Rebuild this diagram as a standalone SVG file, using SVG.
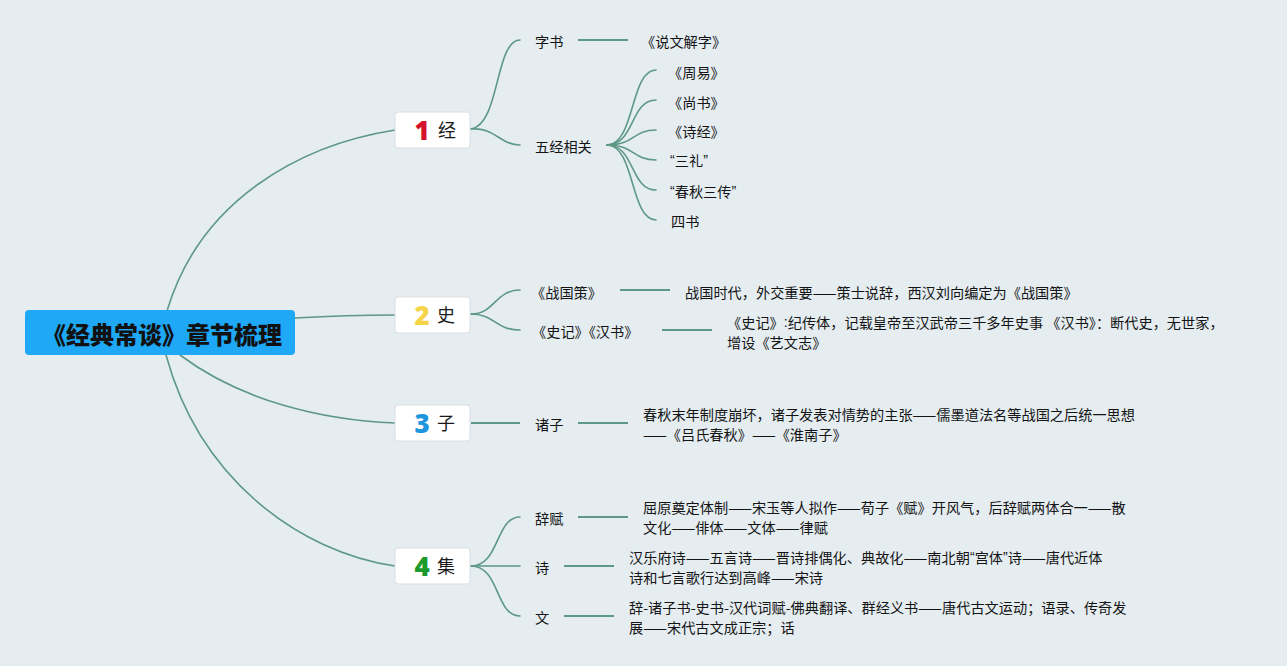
<svg xmlns="http://www.w3.org/2000/svg" width="1287" height="666" viewBox="0 0 1287 666">
<style>
.bg{fill:#e5edf1}
.c{fill:none;stroke:#5e9886;stroke-width:1.6;stroke-linecap:round}
.l{fill:none;stroke:#5e9886;stroke-width:2}
.t{font-family:"Noto Sans CJK SC","Noto Sans",sans-serif;font-size:14.2px;fill:#141414;dominant-baseline:central}
.q{font-family:"Liberation Sans",sans-serif}
.box{fill:#ffffff;stroke:#dadde0;stroke-width:1}
.num{font-family:"Noto Sans","Liberation Sans",sans-serif;font-weight:900;font-size:26px;text-anchor:middle}
.nt{font-family:"Noto Sans CJK SC",sans-serif;font-size:18px;fill:#1a1a1a;text-anchor:middle}
.root{font-family:"Noto Sans CJK SC",sans-serif;font-weight:900;font-size:24px;fill:#111;dominant-baseline:central}
</style>
<rect class="bg" x="0" y="0" width="1287" height="666"/>
<g id="connectors">
<path class="c" d="M167,311 C200,200 300,145 395,130"/>
<path class="c" d="M295,318 C330,316 360,315 395,315"/>
<path class="c" d="M180,355 C240,400 320,420 395,423"/>
<path class="c" d="M166,355 C200,480 300,552 395,566"/>
<path class="c" d="M471,129 C500,125 495,40 520,40"/>
<path class="c" d="M471,129 C495,127 500,145 520,145"/>
<path class="l" d="M578,40 H628"/>
<path class="c" d="M607,145 C635,145 630,70 656,70"/>
<path class="c" d="M607,145 C635,145 630,100 656,100"/>
<path class="c" d="M607,145 C635,145 632,130 656,130"/>
<path class="c" d="M607,145 C635,145 632,160 656,160"/>
<path class="c" d="M607,145 C635,145 630,190 656,190"/>
<path class="c" d="M607,145 C635,145 630,220 656,220"/>
<path class="c" d="M471,314 C495,314 495,290 520,290"/>
<path class="c" d="M471,314 C495,314 495,330 520,330"/>
<path class="l" d="M620,290 H670"/>
<path class="l" d="M662,330 H712"/>
<path class="l" d="M471,423 H520"/>
<path class="l" d="M578,423 H628"/>
<path class="c" d="M471,566 C500,566 495,517 520,517"/>
<path class="c" d="M471,566 H520"/>
<path class="c" d="M471,566 C500,566 495,616 520,616"/>
<path class="l" d="M578,517 H628"/>
<path class="l" d="M564,566 H614"/>
<path class="l" d="M564,616 H614"/>
</g>
<g id="root">
<rect x="25" y="310" width="270" height="45" rx="4" fill="#1fa8f6"/>
<text class="root" x="42" y="333">《经典常谈》章节梳理</text>
</g>
<g id="n1">
<rect class="box" x="395" y="112" width="75" height="36" rx="3"/>
<text class="num" x="422" y="140" fill="#d4122b">1</text>
<text class="nt" x="447" y="137">经</text>
</g>
<g id="n2">
<rect class="box" x="395" y="297" width="75" height="36" rx="3"/>
<text class="num" x="422" y="325" fill="#f5d449">2</text>
<text class="nt" x="446" y="322">史</text>
</g>
<g id="n3">
<rect class="box" x="395" y="405" width="75" height="36" rx="3"/>
<text class="num" x="422" y="433" fill="#1e95dc">3</text>
<text class="nt" x="446" y="430">子</text>
</g>
<g id="n4">
<rect class="box" x="395" y="548" width="75" height="36" rx="3"/>
<text class="num" x="422" y="576" fill="#1c9a2e">4</text>
<text class="nt" x="446" y="573">集</text>
</g>
<g id="n1-children">
<text class="t" x="535" y="41">字书</text>
<text class="t" x="641" y="41">《说文解字》</text>
<text class="t" x="535" y="146">五经相关</text>
<text class="t" x="668" y="72">《周易》</text>
<text class="t" x="668" y="102">《尚书》</text>
<text class="t" x="668" y="131">《诗经》</text>
<text class="t" x="670" y="160"><tspan class="q">“</tspan>三礼<tspan class="q">”</tspan></text>
<text class="t" x="670" y="191"><tspan class="q">“</tspan>春秋三传<tspan class="q">”</tspan></text>
<text class="t" x="671" y="221">四书</text>
</g>
<g id="n2-children">
<text class="t" x="531" y="292">《战国策》</text>
<text class="t" x="685" y="292">战国时代，外交重要——策士说辞，西汉刘向编定为《战国策》</text>
<text class="t" x="532" y="331">《史记》《汉书》</text>
<text class="t" x="727" y="322">《史记》<tspan class="q">:</tspan>纪传体，记载皇帝至汉武帝三千多年史事 《汉书》：断代史，无世家，</text>
<text class="t" x="727" y="342">增设《艺文志》</text>
</g>
<g id="n3-children">
<text class="t" x="535" y="424">诸子</text>
<text class="t" x="643" y="414">春秋末年制度崩坏，诸子发表对情势的主张——儒墨道法名等战国之后统一思想</text>
<text class="t" x="643" y="434">——《吕氏春秋》——《淮南子》</text>
</g>
<g id="n4-children">
<text class="t" x="535" y="518">辞赋</text>
<text class="t" x="643" y="507">屈原奠定体制——宋玉等人拟作——荀子《赋》开风气，后辞赋两体合一——散</text>
<text class="t" x="643" y="527">文化——俳体——文体——律赋</text>
<text class="t" x="535" y="567">诗</text>
<text class="t" x="629" y="557">汉乐府诗——五言诗——晋诗排偶化、典故化——南北朝<tspan class="q">“</tspan>宫体<tspan class="q">”</tspan>诗——唐代近体</text>
<text class="t" x="629" y="577">诗和七言歌行达到高峰——宋诗</text>
<text class="t" x="535" y="617">文</text>
<text class="t" x="629" y="607">辞-诸子书-史书-汉代词赋-佛典翻译、群经义书——唐代古文运动；语录、传奇发</text>
<text class="t" x="629" y="627">展——宋代古文成正宗；话</text>
</g>
</svg>
